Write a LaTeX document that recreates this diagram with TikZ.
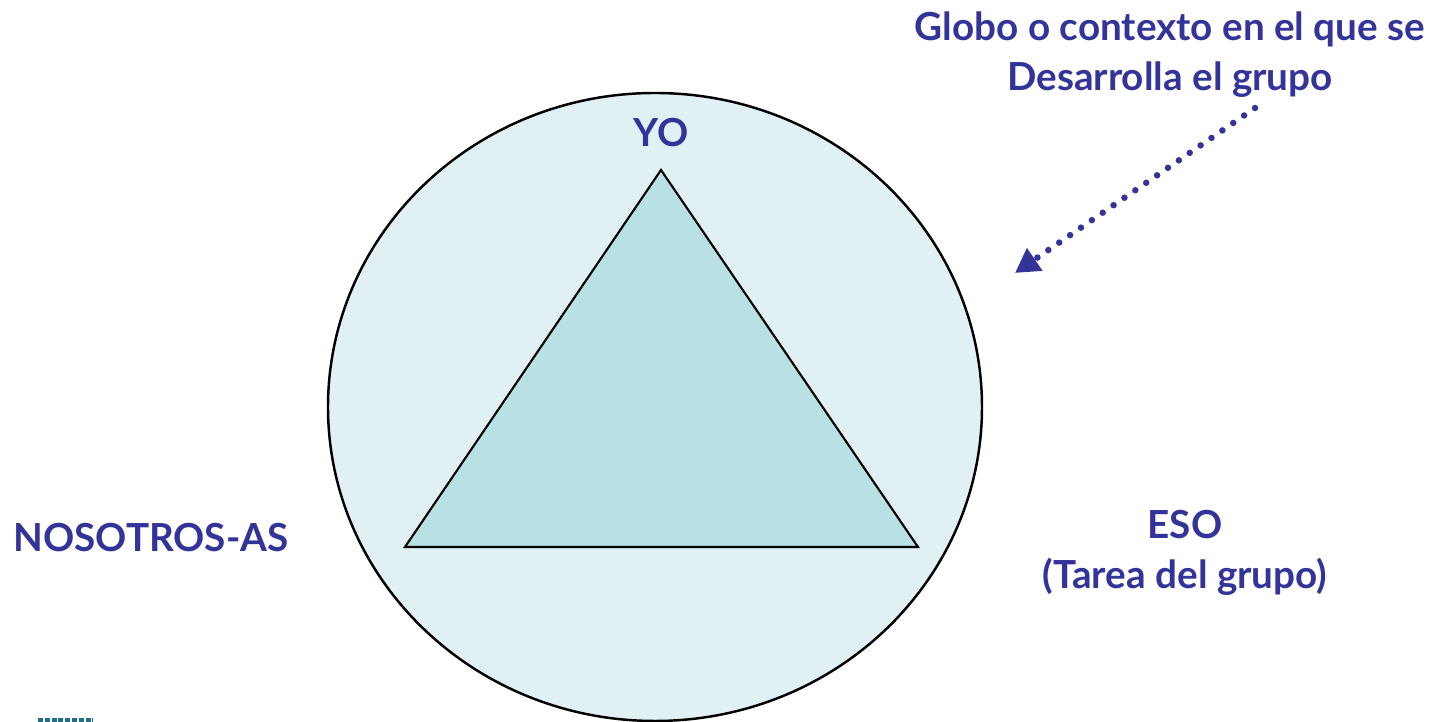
\documentclass[tikz,border=0pt]{standalone}
\usepackage{fontspec}
\setmainfont{Lato}
\usepackage{xcolor}
\usetikzlibrary{arrows.meta}
\definecolor{labelblue}{HTML}{333399}
\definecolor{globofill}{HTML}{E1F0F3}
\definecolor{trifill}{HTML}{B9E0E2}
\definecolor{logoteal}{HTML}{1F6E8C}
\tikzset{
  lbl/.style={text=labelblue, font=\fontsize{11}{14.2}\selectfont\bfseries, align=center, inner sep=0pt},
}
\begin{document}
\begin{tikzpicture}[x=0.1mm, y=-0.1mm]
  \useasboundingbox (0,0) rectangle (1435,722);
  % context ellipse and the group triangle
  \draw[fill=globofill, line width=0.7pt] (655,407) ellipse [x radius=327, y radius=314];
  \coordinate (yo) at (661,170);
  \coordinate (nos) at (405,547);
  \coordinate (eso) at (918,547);
  \draw[fill=trifill, line width=0.6pt] (yo) -- (nos) -- (eso) -- cycle;
  \node[lbl] (yolbl) at (661,133) {YO};
  \node[lbl] (noslbl) at (151,538) {NOSOTROS-AS};
  \node[lbl] (esolbl) at (1185,553) {ESO\\(Tarea del grupo)};
  \node[lbl] (globo) at (1170,55) {Globo o contexto en el que se\\Desarrolla el grupo};
  % dotted pointer into the globe
  \coordinate (from) at (1255,108);
  \coordinate (to) at (1015,273);
  \draw[labelblue, line width=0.65mm, line cap=round, dash pattern=on 0pt off 1.32mm,
    -{Triangle[length=2.4mm, width=2.6mm]}] (from) -- (to);
  % cut-off logo corner
  \draw[logoteal, line width=0.4mm, dash pattern=on 0.5mm off 0.18mm] (38,720) -- (93,720);
\end{tikzpicture}
\end{document}
